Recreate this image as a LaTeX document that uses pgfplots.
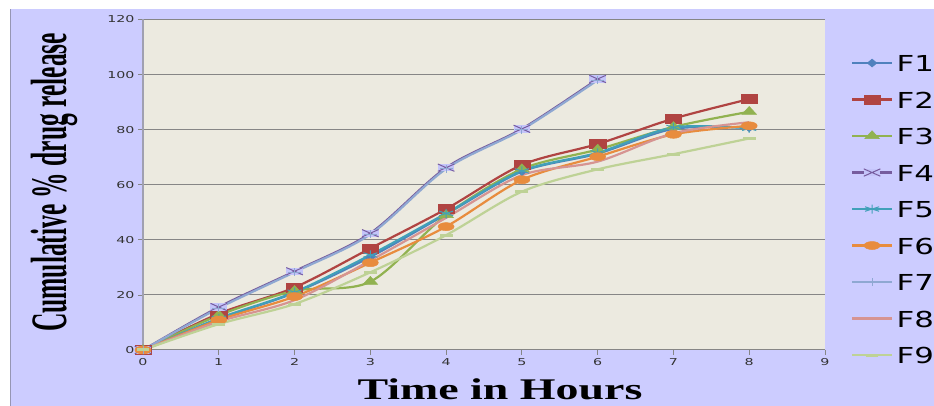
\documentclass[border=0pt]{standalone}
\usepackage{pgfplots}
\pgfplotsset{compat=1.18}
\usepackage{fontspec}
\setmainfont{Liberation Serif}
\newfontfamily\dejavu{DejaVu Sans}

\definecolor{lav}{RGB}{204,204,255}
\definecolor{lavmark}{RGB}{196,196,250}
\definecolor{plotbg}{RGB}{236,234,224}
\definecolor{gridgray}{RGB}{134,134,134}
\definecolor{axisgray}{RGB}{160,160,176}
\definecolor{framegray}{RGB}{150,150,180}
\definecolor{cF1}{RGB}{79,129,189}
\definecolor{cF2}{RGB}{176,68,66}
\definecolor{cF3}{RGB}{145,178,80}
\definecolor{cF4}{RGB}{118,92,158}
\definecolor{cF5}{RGB}{65,160,185}
\definecolor{cF6}{RGB}{232,140,62}
\definecolor{cF7}{RGB}{143,168,210}
\definecolor{cF8}{RGB}{214,148,146}
\definecolor{cF9}{RGB}{190,210,150}

% box with a cross, used for F4
\pgfdeclareplotmark{boxx}{%
  \pgfpathrectangle{\pgfqpoint{-\pgfplotmarksize}{-0.8\pgfplotmarksize}}{\pgfqpoint{2\pgfplotmarksize}{1.6\pgfplotmarksize}}%
  \pgfsetfillcolor{lavmark}\pgfusepathqfill
  \pgfpathmoveto{\pgfqpoint{-\pgfplotmarksize}{-0.8\pgfplotmarksize}}%
  \pgfpathlineto{\pgfqpoint{\pgfplotmarksize}{0.8\pgfplotmarksize}}%
  \pgfpathmoveto{\pgfqpoint{-\pgfplotmarksize}{0.8\pgfplotmarksize}}%
  \pgfpathlineto{\pgfqpoint{\pgfplotmarksize}{-0.8\pgfplotmarksize}}%
  \pgfusepathqstroke}

\newcommand{\wide}[1]{\scalebox{1.4}[1]{#1}}

\begin{document}
\begin{tikzpicture}
\path[use as bounding box] (0,0) rectangle (934pt,406pt);
\fill[white] (0,0) rectangle (934pt,406pt);
\fill[lav] (10pt,0) rectangle (934pt,397pt);
\draw[framegray, line width=1pt] (10pt,0) -- (10pt,397pt);

\begin{axis}[
  at={(143pt,56pt)}, anchor=south west,
  scale only axis, width=682pt, height=330.5pt,
  xmin=0, xmax=9, ymin=0, ymax=120,
  xtick={0,...,9}, ytick={0,20,...,120},
  axis x line=bottom, axis y line=left,
  x axis line style={draw=none},
  y axis line style={-, draw=axisgray, line width=1.6pt},
  axis background/.style={fill=plotbg},
  ymajorgrids, grid style={gridgray, line width=1pt},
  tick align=outside, major tick length=5pt,
  tick style={gridgray, line width=0.8pt},
  clip=false,
  /pgf/number format/assume math mode=true,
  ticklabel style={font=\dejavu\fontsize{9.5}{10}\selectfont, text=black!80},
  xticklabel={\scalebox{1.5}[1]{\pgfmathprintnumber{\tick}}},
  yticklabel={\scalebox{1.5}[1]{\pgfmathprintnumber{\tick}}},
  xlabel={\scalebox{1.53}[1]{\fontsize{30}{30}\selectfont\bfseries Time in Hours}},
  xlabel style={at={(axis description cs:0.5235,-0.118)}, anchor=center},
  ylabel={\scalebox{0.5}[1]{\fontsize{51}{51}\selectfont\bfseries Cumulative \% drug release}},
  ylabel style={at={(axis description cs:-0.1305,0.507)}, anchor=center},
  legend style={at={(axis description cs:1.0381,0.894)}, anchor=north west,
    draw=none, fill=none, inner sep=0pt, outer sep=0pt,
    row sep=19.5pt, column sep=3.5pt,
    font=\dejavu\fontsize{22}{22}\selectfont,
    nodes={inner sep=0pt, text height=17pt, text depth=0pt}},
  legend cell align=left,
  legend image code/.code={\draw[mark repeat=2,mark phase=2] plot coordinates {(0pt,0pt) (20pt,0pt) (40pt,0pt)};},
  every axis plot/.append style={line width=2.2pt, smooth, tension=0.5},
]
% F1
\addplot[cF1, mark=diamond*, mark size=4pt, mark options={xscale=1.6, line width=0.5pt}]
  coordinates {(0,0) (1,11.2) (2,20.8) (3,33.8) (4,49.3) (5,64.8) (6,71.3) (7,80.3) (8,80.7)};
% F2
\addplot[cF2, mark=square*, mark size=4.5pt, mark options={xscale=1.8, line width=0.5pt}]
  coordinates {(0,0) (1,13.2) (2,22.7) (3,36.9) (4,51.2) (5,67.2) (6,74.8) (7,84) (8,91.1)};
% F3
\addplot[cF3, mark=triangle*, mark size=5.3pt, mark options={xscale=1.6, line width=0.5pt}]
  coordinates {(0,0) (1,12.6) (2,21.5) (3,24.8) (4,49) (5,65.7) (6,72.8) (7,81) (8,86.5)};
% F4
\addplot[cF4, mark=boxx, mark size=4.6pt, mark options={xscale=1.8, line width=1pt}]
  coordinates {(0,0) (1,15.6) (2,28.6) (3,42.4) (4,66.2) (5,80.3) (6,98.4)};
% F5
\addplot[cF5, mark=asterisk, mark size=4.5pt, mark options={xscale=1.8, line width=1pt}]
  coordinates {(0,0) (1,11.5) (2,21) (3,34.5) (4,49.6) (5,65) (6,71.6) (7,80.8) (8,80.5)};
% F6
\addplot[cF6, mark=*, mark size=4pt, mark options={xscale=2, line width=0.5pt}]
  coordinates {(0,0) (1,10.9) (2,19.4) (3,31.7) (4,44.8) (5,61.8) (6,70.2) (7,78.3) (8,81.4)};
% F7
\addplot[cF7, mark=+, mark size=4pt, mark options={xscale=1.6, line width=1pt}]
  coordinates {(0,0) (1,15.2) (2,28.3) (3,42.0) (4,65.8) (5,80.0) (6,98.0)};
% F8
\addplot[cF8]
  coordinates {(0,0) (1,10.3) (2,18.1) (3,32.5) (4,48) (5,63.5) (6,68.4) (7,78.7) (8,82.7)};
% F9
\addplot[cF9, mark=-, mark size=4pt, mark options={xscale=1.6, line width=3pt}]
  coordinates {(0,0) (1,9.4) (2,16.7) (3,28.2) (4,41.7) (5,57.5) (6,65.6) (7,71.1) (8,76.8)};
\legend{\wide{F1},\wide{F2},\wide{F3},\wide{F4},\wide{F5},\wide{F6},\wide{F7},\wide{F8},\wide{F9}}
\end{axis}
\end{tikzpicture}
\end{document}
